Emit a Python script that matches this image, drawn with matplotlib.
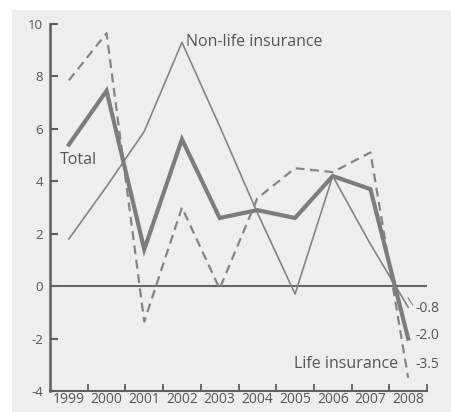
import matplotlib.pyplot as plt
from matplotlib.patches import Rectangle

years = ['1999', '2000', '2001', '2002', '2003', '2004', '2005', '2006', '2007', '2008']
total = [5.4, 7.45, 1.4, 5.6, 2.6, 2.9, 2.6, 4.2, 3.7, -2.0]
non_life = [1.8, 3.8, 5.9, 9.3, 6.1, 2.8, -0.3, 4.2, 1.6, -0.8]
life = [7.85, 9.65, -1.35, 3.0, -0.1, 3.35, 4.5, 4.35, 5.1, -3.5]
end_labels = ['-0.8', '-2.0', '-3.5']
end_label_y = [-0.85, -1.9, -2.98]

plt.rcParams['font.family'] = ['Open Sans', 'DejaVu Sans']
ink = '#555555'
line_col = '#858585'

fig = plt.figure(figsize=(4.51, 4.12), dpi=100, facecolor='white')
# light grey panel behind the chart
fig.patches.append(Rectangle((12 / 451, 0), 1, 1 - 10 / 412, transform=fig.transFigure,
                             facecolor='#eeeeee', edgecolor='none', zorder=-10))
ax = fig.add_axes([50 / 451, 21 / 412, 377 / 451, 367 / 412])
ax.set_facecolor('none')

x = list(range(len(years)))
ax.plot(x, non_life, color=line_col, lw=1.2, zorder=3)
ax.plot(x, life, color=line_col, lw=1.6, ls=(0, (4, 2.5)), zorder=3)
ax.plot(x, total, color='#7d7d7d', lw=3.0, zorder=4, solid_joinstyle='miter')

ax.axhline(0, color='#666666', lw=1.5, zorder=2)

ax.set_xlim(-0.5, 9.5)
ax.set_ylim(-4, 10)
for s in ['top', 'right']:
    ax.spines[s].set_visible(False)
ax.spines['left'].set_color('#5e5e5e')
ax.spines['left'].set_linewidth(1.8)
ax.spines['bottom'].set_color('#5e5e5e')
ax.spines['bottom'].set_linewidth(1.5)

ax.set_yticks(range(-4, 11, 2))
ax.set_yticklabels([str(v) for v in range(-4, 11, 2)])
ax.tick_params(axis='y', direction='in', length=6, width=1.5, color='#5e5e5e',
               labelcolor=ink, labelsize=9.5, pad=5)

# year ticks sit on the interval edges, labels in the middle of each interval
ax.set_xticks([i + 0.5 for i in x])
ax.set_xticks(x, minor=True)
ax.set_xticklabels([])
ax.set_xticklabels(years, minor=True)
ax.tick_params(axis='x', which='major', direction='in', length=5, width=1.3, color='#5e5e5e')
ax.tick_params(axis='x', which='minor', length=0, labelcolor=ink, labelsize=10, pad=1)

ax.text(3.12, 9.3, 'Non-life insurance', color=ink, fontsize=11.5, va='center', ha='left')
ax.text(-0.24, 4.8, 'Total', color=ink, fontsize=11.5, va='center', ha='left')
ax.text(8.73, -2.98, 'Life insurance', color=ink, fontsize=11.5, va='center', ha='right')
for lab, yy in zip(end_labels, end_label_y):
    ax.text(9.19, yy, lab, color=ink, fontsize=10, va='center', ha='left')
ax.plot([9.0, 9.12], [-0.45, -0.72], color=line_col, lw=0.8)

fig.savefig('out.png', dpi=100, facecolor=fig.get_facecolor())
